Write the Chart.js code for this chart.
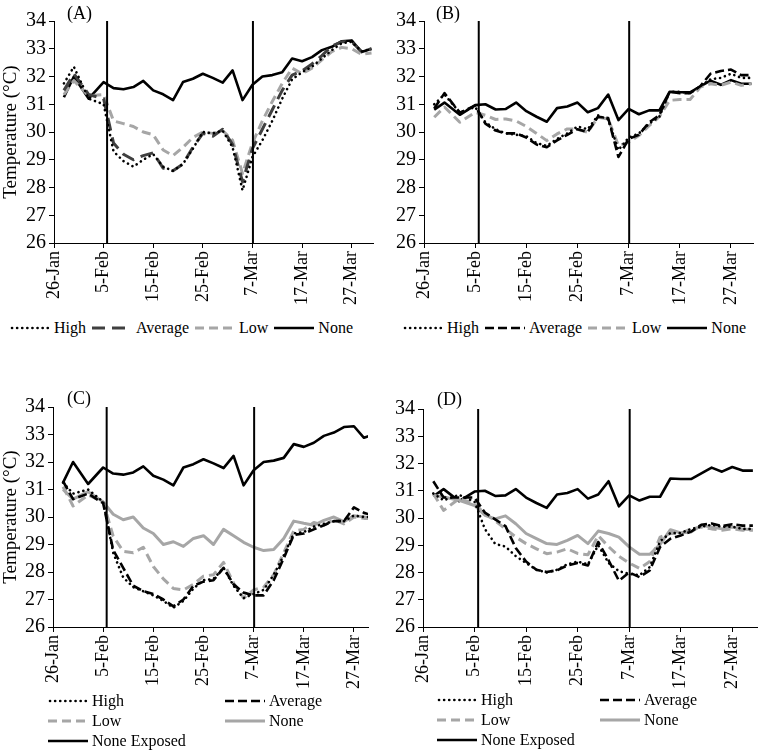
<!DOCTYPE html>
<html>
<head>
<meta charset="utf-8">
<script src="https://cdn.jsdelivr.net/npm/chart.js@4.4.1/dist/chart.umd.min.js"></script>
<style>
html,body{margin:0;padding:0;background:#fff;}
body{width:760px;height:752px;position:relative;overflow:hidden;font-family:"Liberation Serif","Times New Roman",serif;color:#000;}
canvas{position:absolute;}
.plabel{position:absolute;font-size:18px;line-height:18px;}
.legend{position:absolute;font-size:16px;line-height:20px;}
.legend.row{display:flex;align-items:center;}
.legend.grid{display:grid;grid-auto-rows:20px;}
.legend .item{display:flex;align-items:center;white-space:nowrap;}
.legend svg{flex:none;display:block;}
.legend span{margin-left:4px;}
</style>
</head>
<body>
<canvas id="cA" width="380" height="312" style="left:0px;top:0px;width:380px;height:312px"></canvas>
<canvas id="cB" width="380" height="312" style="left:380px;top:0px;width:380px;height:312px"></canvas>
<canvas id="cC" width="380" height="310" style="left:0px;top:386px;width:380px;height:310px"></canvas>
<canvas id="cD" width="380" height="308" style="left:380px;top:388px;width:380px;height:308px"></canvas>
<div class="plabel" style="left:67px;top:4px">(A)</div>
<div class="plabel" style="left:436px;top:4px">(B)</div>
<div class="plabel" style="left:67px;top:389px">(C)</div>
<div class="plabel" style="left:437px;top:390px">(D)</div>
<div id="legA" class="legend row" style="left:10px;top:318px"></div>
<div id="legB" class="legend row" style="left:403px;top:318px"></div>
<div id="legC" class="legend grid" style="left:48px;top:691px;grid-template-columns:177px auto"></div>
<div id="legD" class="legend grid" style="left:437px;top:690px;grid-template-columns:163px auto"></div>
<script>
// ---------------- DATA ----------------
// day offsets from 26-Jan
const days = [2,4,7,10,12,14,16,18,20,22,24,26,28,30,32,34,36,38,40,42,44,46,48,50,52,54,56,58,60,62,64];
const xTickDays = [0,10,20,30,40,50,60];
const xTickLabels = ['26-Jan','5-Feb','15-Feb','25-Feb','7-Mar','17-Mar','27-Mar'];
const eventDays = [10.7, 40.1];
const yBounds = [26, 34];

// (A)
const aHigh    = [31.75,32.35,31.2,31.0,29.3,28.95,28.75,29.0,29.2,28.75,28.6,28.85,29.4,30.0,29.95,30.05,29.45,27.9,29.1,29.7,30.4,31.2,31.9,32.15,32.35,32.65,32.95,33.2,33.25,32.9,33.0];
const aAverage = [31.5,32.1,31.35,31.2,29.6,29.2,29.0,29.15,29.25,28.7,28.6,28.85,29.45,29.95,29.85,30.1,29.55,28.2,29.4,30.1,30.8,31.5,32.05,32.2,32.45,32.75,33.1,33.25,33.25,32.9,33.0];
const aLow     = [31.35,31.85,31.3,31.35,30.4,30.3,30.2,30.0,29.9,29.35,29.15,29.45,29.8,30.0,29.95,30.05,29.7,28.5,29.6,30.4,31.1,31.75,32.3,32.1,32.3,32.6,32.9,33.05,33.0,32.8,32.85];
const aNone    = [31.25,32.0,31.2,31.8,31.58,31.54,31.62,31.84,31.5,31.36,31.15,31.8,31.92,32.1,31.95,31.78,32.22,31.15,31.7,32.0,32.05,32.15,32.65,32.55,32.7,32.95,33.07,33.27,33.3,32.88,33.0];

// (B)
const bHigh    = [31.0,31.35,30.7,30.9,30.35,30.1,29.95,29.9,29.85,29.6,29.5,29.75,29.95,30.2,30.1,30.6,30.45,29.35,29.8,29.95,30.3,30.55,31.45,31.45,31.4,31.65,31.9,31.95,32.1,31.95,31.95];
const bAverage = [30.85,31.4,30.7,30.95,30.3,30.05,29.95,29.95,29.8,29.55,29.45,29.7,29.9,30.1,30.0,30.55,30.5,29.1,29.75,29.9,30.35,30.6,31.45,31.4,31.4,31.65,32.1,32.2,32.25,32.05,32.05];
const bLow     = [30.53,30.9,30.35,30.71,30.6,30.45,30.47,30.4,30.2,29.95,29.69,29.93,30.11,30.1,29.99,30.53,30.47,29.51,29.63,29.87,30.23,30.55,31.14,31.17,31.17,31.62,31.74,31.68,31.8,31.68,31.74];
const bNone    = [30.8,31.06,30.62,30.97,31.0,30.81,30.83,31.06,30.75,30.55,30.37,30.86,30.92,31.06,30.71,30.86,31.35,30.43,30.83,30.64,30.78,30.78,31.45,31.43,31.43,31.64,31.85,31.7,31.87,31.74,31.74];

// (C)
const cHigh    = [31.25,30.85,31.0,30.55,28.7,27.8,27.45,27.3,27.15,26.95,26.7,26.95,27.4,27.7,27.75,28.15,27.5,27.05,27.2,27.35,27.9,28.6,29.4,29.45,29.65,29.75,29.85,29.85,30.05,30.0,30.0];
const cAverage = [31.3,30.65,30.85,30.5,28.8,28.15,27.5,27.3,27.2,27.0,26.75,27.0,27.5,27.65,27.7,28.15,27.55,27.25,27.15,27.15,27.7,28.5,29.35,29.4,29.55,29.7,29.85,29.85,30.35,30.15,30.05];
const cLow     = [31.1,30.4,30.8,30.55,29.3,28.75,28.7,28.9,28.2,27.75,27.4,27.35,27.55,27.85,27.9,28.35,27.6,27.05,27.35,27.45,27.9,28.7,29.5,29.55,29.8,29.7,29.9,29.75,30.0,29.95,29.95];
const cNone    = [31.0,30.65,30.92,30.55,30.1,29.9,30.0,29.6,29.4,29.0,29.1,28.93,29.22,29.32,29.0,29.55,29.32,29.08,28.9,28.78,28.82,29.22,29.85,29.77,29.7,29.88,30.0,29.83,30.05,30.0,29.95];
const cNoneExposed = aNone;

// (D)
const dHigh    = [30.9,30.65,30.85,30.6,29.6,29.05,28.95,28.6,28.35,28.1,28.0,28.1,28.3,28.4,28.3,29.0,28.35,28.05,27.95,27.9,28.2,29.15,29.45,29.45,29.6,29.68,29.75,29.68,29.68,29.6,29.6];
const dAverage = [31.35,30.75,30.75,30.75,30.2,29.95,29.7,28.9,28.4,28.1,28.02,28.08,28.26,28.35,28.26,29.12,28.45,27.7,28.0,27.83,28.08,28.94,29.24,29.36,29.5,29.75,29.8,29.7,29.77,29.72,29.72];
const dLow     = [30.9,30.28,30.71,30.53,30.16,29.9,29.6,29.3,29.06,28.87,28.69,28.75,28.87,28.7,28.65,29.35,28.95,28.6,28.35,28.15,28.4,29.3,29.43,29.43,29.6,29.67,29.6,29.55,29.6,29.55,29.55];
const dNone    = [30.83,30.77,30.65,30.46,30.1,29.97,30.08,29.79,29.43,29.24,29.06,29.03,29.18,29.36,29.06,29.52,29.43,29.3,28.94,28.67,28.67,29.03,29.57,29.45,29.49,29.73,29.67,29.6,29.67,29.6,29.57];
const dNoneExposed = bNone;

// ---------------- STYLES ----------------
const FONT = "'Liberation Serif','Times New Roman',serif";
const ST = {
  high:     {label:'High',         color:'#000000', width:2.6, dash:[0.1,5],  cap:'round'},
  avgGray:  {label:'Average',      color:'#404040', width:3,   dash:[13,7],   cap:'butt'},
  avg:      {label:'Average',      color:'#000000', width:2.6, dash:[9,4],    cap:'butt'},
  low:      {label:'Low',          color:'#a6a6a6', width:3,   dash:[9,5],    cap:'butt'},
  noneBlack:{label:'None',         color:'#000000', width:2.6, dash:[],       cap:'butt'},
  noneGray: {label:'None',         color:'#a6a6a6', width:3,   dash:[],       cap:'butt'},
  exposed:  {label:'None Exposed', color:'#000000', width:2.6, dash:[],       cap:'butt'}
};

function series(values, st) {
  return {
    label: st.label,
    data: days.map((d, i) => ({x: d, y: values[i]})),
    borderColor: st.color,
    backgroundColor: st.color,
    borderWidth: st.width,
    borderDash: st.dash,
    borderCapStyle: st.cap,
    borderJoinStyle: 'round',
    pointRadius: 0,
    fill: false,
    tension: 0
  };
}
function eventLines() {
  return eventDays.map(d => ({
    label: '',
    data: yBounds.map(y => ({x: d, y: y})),
    borderColor: '#000', borderWidth: 2, pointRadius: 0, fill: false, isEvent: true
  }));
}

function makePanel(p) {
  const datasets = eventLines().concat(p.series.map(s => series(s[0], s[1])));
  const chart = new Chart(document.getElementById(p.id), {
    type: 'line',
    data: {datasets: datasets},
    options: {
      responsive: false,
      animation: false,
      devicePixelRatio: 1,
      layout: {padding: {top: p.padTop, right: p.padRight, left: 0, bottom: 0}},
      plugins: {legend: {display: false}, tooltip: {enabled: false}},
      scales: {
        x: {
          type: 'linear', min: 0, max: p.xMax,
          afterBuildTicks: s => { s.ticks = xTickDays.map(v => ({value: v})); },
          afterFit: s => { s.height = p.xHeight; },
          ticks: {autoSkip: false, minRotation: 90, maxRotation: 90, padding: 3, color: '#000',
                  font: {family: FONT, size: 18},
                  callback: (v, i) => xTickLabels[i]},
          grid: {drawOnChartArea: false, drawTicks: true, tickLength: 5, color: '#000', lineWidth: 1},
          border: {display: true, color: '#000', width: 1}
        },
        y: {
          min: yBounds[0], max: yBounds[1],
          afterFit: s => { s.width = p.yWidth; },
          ticks: {stepSize: 1, padding: 3, color: '#000', font: {family: FONT, size: 20}},
          grid: {drawOnChartArea: false, drawTicks: true, tickLength: 5, color: '#000', lineWidth: 1},
          border: {display: true, color: '#000', width: 1},
          title: {display: !!p.yTitle, text: 'Temperature (°C)', color: '#000',
                  font: {family: FONT, size: 19}, padding: {top: 0, bottom: 0}}
        }
      }
    }
  });
  // HTML legend built from the chart's datasets
  const leg = document.getElementById(p.legend);
  const shown = chart.data.datasets.filter(ds => !ds.isEvent);
  shown.forEach((ds, i) => {
    const item = document.createElement('div');
    item.className = 'item';
    if (p.legendGap && i < shown.length - 1) item.style.marginRight = p.legendGap + 'px';
    const w = 40;
    const dash = (ds.borderDash && ds.borderDash.length) ? ds.borderDash.join(',') : 'none';
    item.innerHTML = '<svg width="' + w + '" height="10"><line x1="' + (ds.borderCapStyle === 'round' ? 2 : 0) +
      '" y1="5" x2="' + w + '" y2="5" stroke="' + ds.borderColor + '" stroke-width="' + ds.borderWidth +
      '" stroke-dasharray="' + dash + '" stroke-linecap="' + ds.borderCapStyle + '"/></svg>';
    const sp = document.createElement('span');
    sp.textContent = ds.label;
    item.appendChild(sp);
    leg.appendChild(item);
  });
  return chart;
}

makePanel({id: 'cA', legend: 'legA', legendGap: 6, padTop: 21, padRight: 7, xMax: 64.3, xHeight: 69, yWidth: 54, yTitle: true,
  series: [[aHigh, ST.high], [aAverage, ST.avgGray], [aLow, ST.low], [aNone, ST.noneBlack]]});
makePanel({id: 'cB', legend: 'legB', legendGap: 6, padTop: 21, padRight: 7, xMax: 64.3, xHeight: 69, yWidth: 44, yTitle: false,
  series: [[bHigh, ST.high], [bAverage, ST.avg], [bLow, ST.low], [bNone, ST.noneBlack]]});
makePanel({id: 'cC', legend: 'legC', legendGap: 0, padTop: 21, padRight: 12, xMax: 62.8, xHeight: 69, yWidth: 53, yTitle: true,
  series: [[cHigh, ST.high], [cAverage, ST.avg], [cLow, ST.low], [cNone, ST.noneGray], [cNoneExposed, ST.exposed]]});
makePanel({id: 'cD', legend: 'legD', legendGap: 0, padTop: 21, padRight: 3, xMax: 64.8, xHeight: 69, yWidth: 43, yTitle: false,
  series: [[dHigh, ST.high], [dAverage, ST.avg], [dLow, ST.low], [dNone, ST.noneGray], [dNoneExposed, ST.exposed]]});
</script>
</body>
</html>
